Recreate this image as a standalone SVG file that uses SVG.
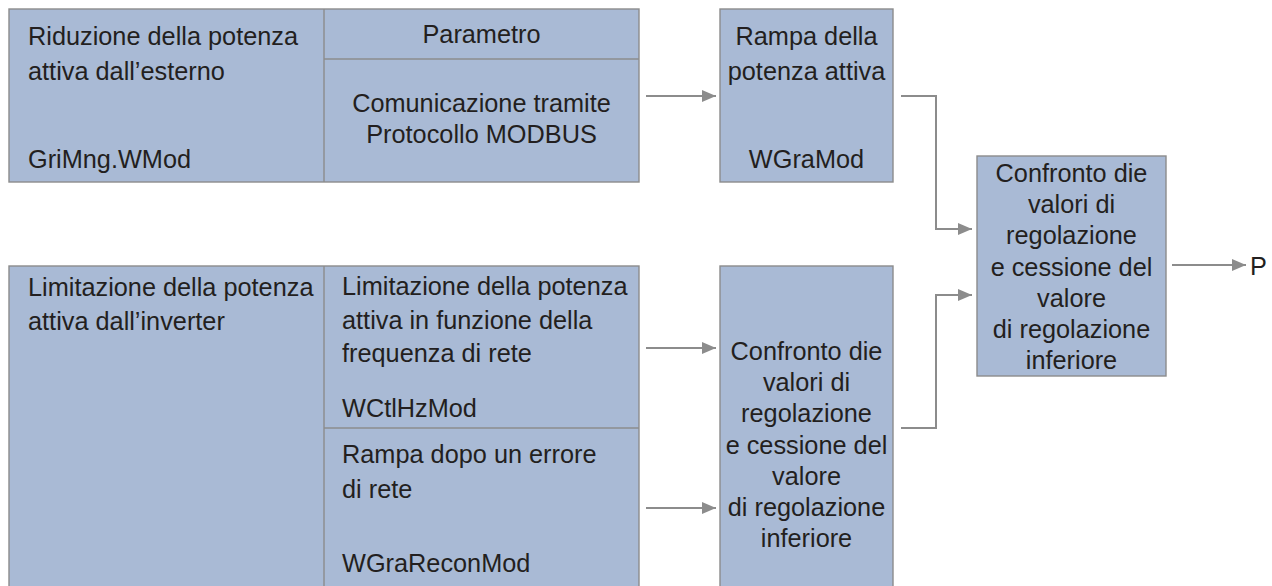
<svg xmlns="http://www.w3.org/2000/svg" width="1272" height="586" viewBox="0 0 1272 586">
<style>
.box{fill:#a9bad5;stroke:#8c8c8c;stroke-width:1.4}
.div{stroke:#8c8c8c;stroke-width:1.4;fill:none}
.t{font-family:"Liberation Sans",Arial,sans-serif;font-size:25.3px;fill:#231f20}
.c{text-anchor:middle}
.con{fill:none;stroke:#8c8c8c;stroke-width:2}
</style>
<defs>
<marker id="ah" markerWidth="14" markerHeight="12" refX="14" refY="6" orient="auto" markerUnits="userSpaceOnUse">
<path d="M0,0 L14,6 L0,12 Z" fill="#8c8c8c"/>
</marker>
</defs>
<rect width="1272" height="586" fill="#ffffff"/>
<g id="node-external">
<rect class="box" x="9" y="9" width="630" height="173"/>
<line class="div" x1="324" y1="9" x2="324" y2="182"/>
<line class="div" x1="324" y1="59" x2="639" y2="59"/>
<text class="t" x="28" y="45">Riduzione della potenza</text>
<text class="t" x="28" y="80">attiva dall’esterno</text>
<text class="t" x="28" y="168">GriMng.WMod</text>
<text class="t c" x="481.5" y="43">Parametro</text>
<text class="t c" x="481.5" y="112">Comunicazione tramite</text>
<text class="t c" x="481.5" y="143">Protocollo MODBUS</text>
</g>
<g id="node-inverter">
<rect class="box" x="9" y="266" width="630" height="340"/>
<line class="div" x1="324" y1="266" x2="324" y2="590"/>
<line class="div" x1="324" y1="428" x2="639" y2="428"/>
<text class="t" x="28" y="296">Limitazione della potenza</text>
<text class="t" x="28" y="330">attiva dall’inverter</text>
<text class="t" x="342" y="295">Limitazione della potenza</text>
<text class="t" x="342" y="329">attiva in funzione della</text>
<text class="t" x="342" y="362">frequenza di rete</text>
<text class="t" x="342" y="417">WCtlHzMod</text>
<text class="t" x="342" y="463">Rampa dopo un errore</text>
<text class="t" x="342" y="498">di rete</text>
<text class="t" x="342" y="572">WGraReconMod</text>
</g>
<g id="node-ramp">
<rect class="box" x="720" y="9" width="173" height="173"/>
<text class="t c" x="806.5" y="45">Rampa della</text>
<text class="t c" x="806.5" y="80">potenza attiva</text>
<text class="t c" x="806.5" y="168">WGraMod</text>
</g>
<g id="node-compare-mid">
<rect class="box" x="720" y="266" width="173" height="340"/>
<text class="t c" x="806.5" y="360">Confronto die</text>
<text class="t c" x="806.5" y="391">valori di</text>
<text class="t c" x="806.5" y="422">regolazione</text>
<text class="t c" x="806.5" y="454">e cessione del</text>
<text class="t c" x="806.5" y="485">valore</text>
<text class="t c" x="806.5" y="516">di regolazione</text>
<text class="t c" x="806.5" y="547">inferiore</text>
</g>
<g id="node-compare-right">
<rect class="box" x="977" y="156" width="189" height="220"/>
<text class="t c" x="1071.5" y="182">Confronto die</text>
<text class="t c" x="1071.5" y="213">valori di</text>
<text class="t c" x="1071.5" y="244">regolazione</text>
<text class="t c" x="1071.5" y="276">e cessione del</text>
<text class="t c" x="1071.5" y="307">valore</text>
<text class="t c" x="1071.5" y="338">di regolazione</text>
<text class="t c" x="1071.5" y="369">inferiore</text>
</g>
<g id="node-p">
<text class="t" x="1250" y="275">P</text>
</g>
<g id="connectors">
<path class="con" d="M646,96 H716" marker-end="url(#ah)"/>
<path class="con" d="M901,96 H936 V229 H972" marker-end="url(#ah)"/>
<path class="con" d="M646,348 H716" marker-end="url(#ah)"/>
<path class="con" d="M646,508 H716" marker-end="url(#ah)"/>
<path class="con" d="M901,428 H936 V295 H972" marker-end="url(#ah)"/>
<path class="con" d="M1172,265 H1246" marker-end="url(#ah)"/>
</g>
</svg>
